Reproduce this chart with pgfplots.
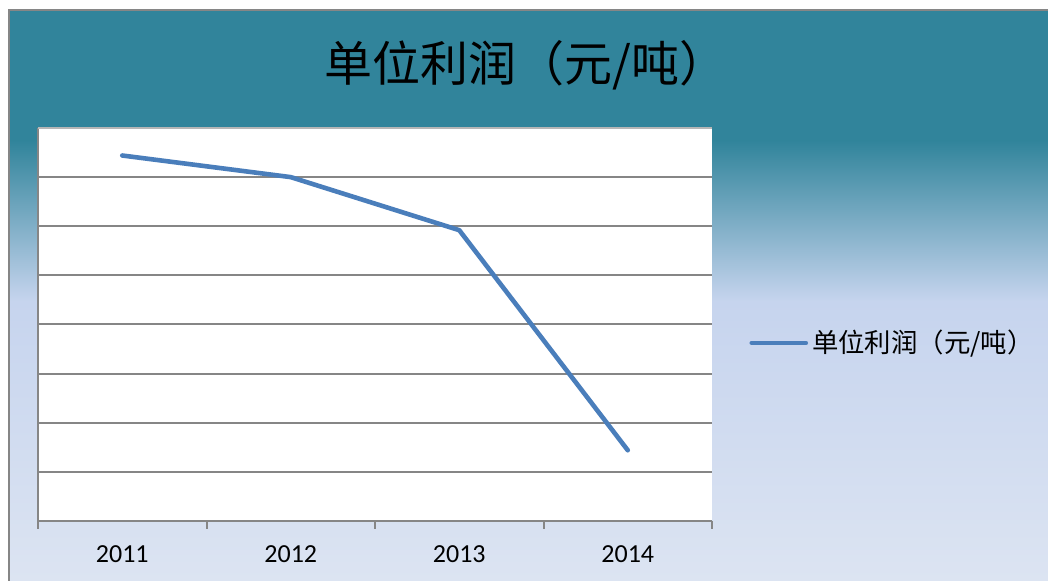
\documentclass[border=0pt]{standalone}
\usepackage{pgfplots}
\pgfplotsset{compat=1.18}
\usepackage{fontspec}
\setmainfont{Carlito}
\newfontfamily\cjk{Noto Sans CJK SC}
\definecolor{teal1}{RGB}{49,132,155}
\definecolor{lav}{RGB}{198,212,238}
\definecolor{lavb}{RGB}{220,228,242}
\definecolor{gridg}{RGB}{134,134,134}
\definecolor{lineb}{RGB}{74,126,187}
\pgfplotstableread{
x y
0 372
1 350
2 296
3 72
}\profit
\begin{document}
\begin{tikzpicture}
\useasboundingbox (0,0) rectangle (524pt,290.5pt);
\fill[white] (0,0) rectangle (524pt,290.5pt);
\fill[teal1] (4pt,0) rectangle (524pt,285pt);
\shade[bottom color=lavb, top color=lav] (4pt,0) rectangle (524pt,140pt);
\shade[bottom color=lav, top color=teal1] (4pt,140pt) rectangle (524pt,220pt);
\draw[gridg, line width=1pt] (4.5pt,0) -- (4.5pt,285.5pt) -- (524pt,285.5pt);
\node[font=\cjk\fontsize{24pt}{28pt}\selectfont, text=black] at (263pt,258pt) {单位利润（元/吨）};
\begin{axis}[
  at={(19pt,30pt)}, anchor=south west,
  scale only axis, width=337pt, height=196.5pt,
  xmin=-0.5, xmax=3.5, ymin=0, ymax=400,
  axis background/.style={fill=white},
  axis line style={draw=none},
  ytick={0,50,...,400}, yticklabels={}, ytick style={draw=none},
  ymajorgrids, grid style={gridg, line width=1pt},
  xtick={0,1,2,3}, xticklabels={2011,2012,2013,2014},
  xtick pos=lower,
  major tick length=0pt,
  extra x ticks={-0.5,0.5,1.5,2.5,3.5}, extra x tick labels={},
  extra x tick style={major tick length=4pt, tick align=outside, xtick pos=lower, xmajorgrids=false, tick style={draw=gridg, line width=1pt}},
  tick label style={font=\fontsize{13pt}{15pt}\selectfont, text=black},
  xticklabel style={yshift=-9pt},
  legend style={at={(1.055,0.453)}, anchor=west, draw=none, fill=none, font=\cjk\fontsize{13.2pt}{15pt}\selectfont, inner sep=0pt},
  legend image code/.code={\draw[#1, line width=2.3pt, line cap=round] (0pt,0pt) -- (27pt,0pt);},
  legend cell align=left,
  clip=false,
]
\draw[gridg, line width=1pt] (axis cs:-0.5,0) -- (axis cs:-0.5,400);
\draw[gridg!60, line width=1pt] (axis cs:-0.5,400) -- (axis cs:3.5,400);
\draw[gridg, line width=1pt] (axis cs:-0.5,0) -- (axis cs:3.5,0);
\addplot[lineb, line width=2.3pt, line cap=round, line join=round, mark=none] table[x=x, y=y] {\profit};
\addlegendentry{单位利润（元/吨）}
\end{axis}
\end{tikzpicture}
\end{document}
